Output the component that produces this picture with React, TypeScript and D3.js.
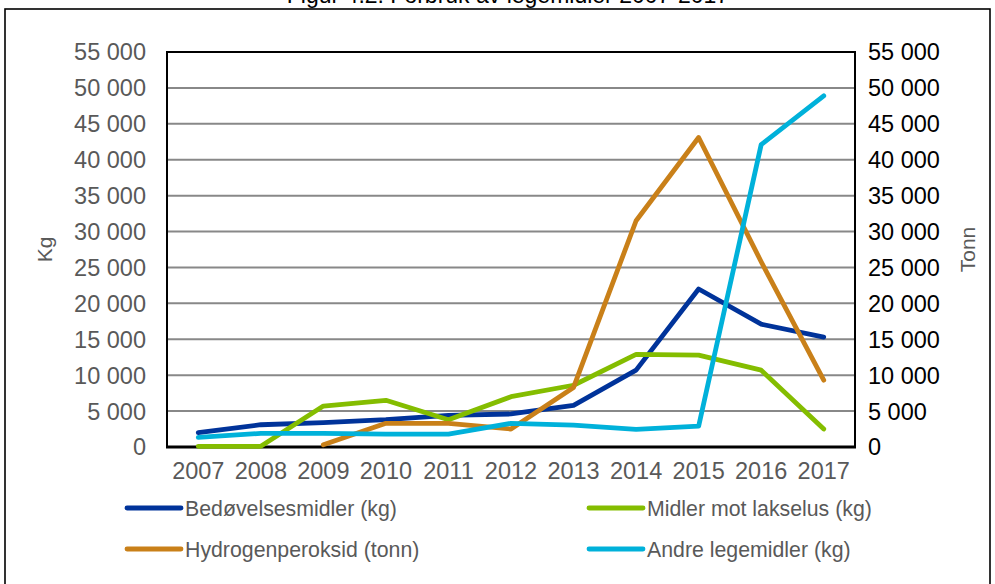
import React from "react";
import * as d3 from "d3";

const years = ["2007","2008","2009","2010","2011","2012","2013","2014","2015","2016","2017"];
const bedovelse = [2000, 3100, 3400, 3800, 4400, 4600, 5800, 10700, 22000, 17100, 15300];
const lakselus = [100, 100, 5700, 6500, 3800, 7000, 8600, 12900, 12800, 10700, 2500];
const hydrogen: (number | null)[] = [null, null, 300, 3300, 3300, 2500, 8300, 31500, 43100, 25800, 9300];
const andre = [1350, 1900, 1900, 1800, 1800, 3300, 3050, 2450, 2900, 42100, 48900];
const yTicks = [0, 5000, 10000, 15000, 20000, 25000, 30000, 35000, 40000, 45000, 50000, 55000];

const series = [
  { name: "Bedøvelsesmidler (kg)", values: bedovelse as (number | null)[], color: "#00339A" },
  { name: "Midler mot lakselus (kg)", values: lakselus as (number | null)[], color: "#84BD00" },
  { name: "Hydrogenperoksid (tonn)", values: hydrogen, color: "#C98019" },
  { name: "Andre legemidler (kg)", values: andre as (number | null)[], color: "#00B1DA" },
];

const W = 995, H = 584;
const L = 167, R = 855, T = 52, B = 447;
const FONT = "'Liberation Sans', Arial, sans-serif";

const fmt = (v: number) => (v >= 1000 ? d3.format(",")(v).replace(",", " ") : String(v));

export default function App() {
  const x = d3.scalePoint<string>().domain(years).range([L, R]).padding(0.5);
  const y = d3.scaleLinear().domain([0, 55000]).range([B, T]);
  const line = d3
    .line<number | null>()
    .defined((d) => d !== null)
    .x((_, i) => x(years[i]) as number)
    .y((d) => y(d as number));

  const legendPos = [
    { x: 127, y: 508 },
    { x: 589, y: 508 },
    { x: 127, y: 549 },
    { x: 589, y: 549 },
  ];

  return (
    <div style={{ position: "absolute", left: 0, top: 0 }}>
      <svg width={W} height={H} style={{ display: "block", background: "#fff" }}>
        <rect x={5} y={9} width={985} height={600} fill="#fff" stroke="#000" strokeWidth={1.6} />
        <text x={508} y={3} textAnchor="middle" fontFamily={FONT} fontSize={23} fill="#000">
          Figur 4.2: Forbruk av legemidler 2007-2017
        </text>
        {yTicks.slice(1, -1).map((t) => (
          <line key={t} x1={L} x2={R} y1={y(t)} y2={y(t)} stroke="#888" strokeWidth={2} />
        ))}
        <rect x={L} y={T} width={R - L} height={B - T} fill="none" stroke="#000" strokeWidth={2} />
        <line x1={L - 1} x2={R + 1} y1={B} y2={B} stroke="#000" strokeWidth={3} />
        {yTicks.map((t) => (
          <text key={"l" + t} x={146} y={y(t)} dy="0.36em" textAnchor="end" fontFamily={FONT} fontSize={23.5} fill="#595959">
            {fmt(t)}
          </text>
        ))}
        {yTicks.map((t) => (
          <text key={"r" + t} x={868} y={y(t)} dy="0.36em" textAnchor="start" fontFamily={FONT} fontSize={23.5} fill="#000">
            {fmt(t)}
          </text>
        ))}
        {years.map((yr) => (
          <text key={yr} x={x(yr)} y={479} textAnchor="middle" fontFamily={FONT} fontSize={23.5} fill="#595959">
            {yr}
          </text>
        ))}
        <text transform={`translate(52,${(T + B) / 2}) rotate(-90)`} textAnchor="middle" fontFamily={FONT} fontSize={21} fill="#595959">
          Kg
        </text>
        <text transform={`translate(975,${(T + B) / 2}) rotate(-90)`} textAnchor="middle" fontFamily={FONT} fontSize={21} fill="#595959">
          Tonn
        </text>
        {series.map((s) => (
          <path key={s.name} d={line(s.values) || ""} fill="none" stroke={s.color} strokeWidth={4.8} strokeLinecap="round" strokeLinejoin="round" />
        ))}
        {series.map((s, i) => (
          <g key={"lg" + i}>
            <line x1={legendPos[i].x} x2={legendPos[i].x + 54} y1={legendPos[i].y} y2={legendPos[i].y} stroke={s.color} strokeWidth={4.8} strokeLinecap="round" />
            <text x={legendPos[i].x + 58} y={legendPos[i].y} dy="0.36em" fontFamily={FONT} fontSize={21.3} fill="#595959">
              {s.name}
            </text>
          </g>
        ))}
      </svg>
    </div>
  );
}
